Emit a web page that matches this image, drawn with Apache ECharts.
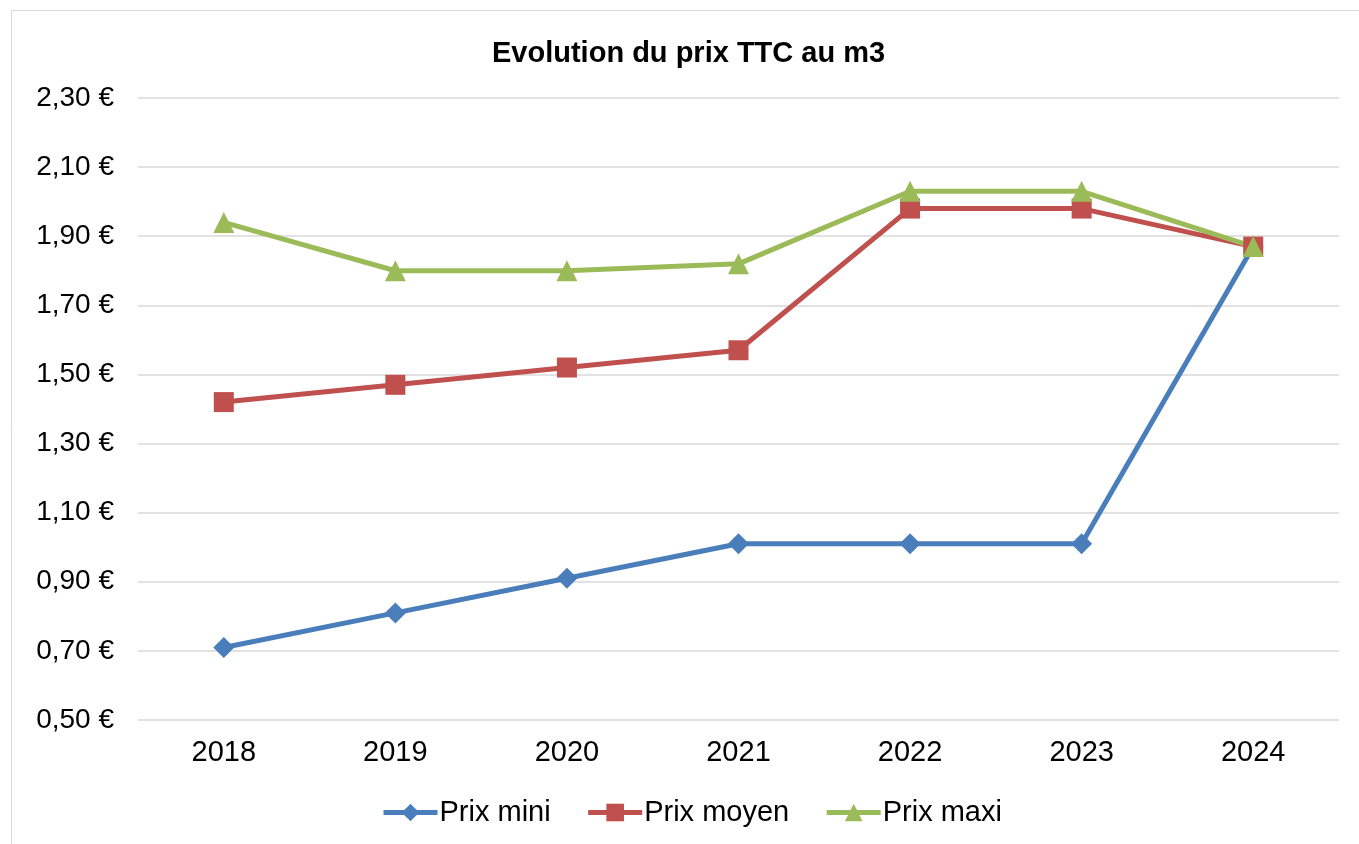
<!DOCTYPE html>
<html>
<head>
<meta charset="utf-8">
<script src="https://cdn.jsdelivr.net/npm/echarts@6/dist/echarts.min.js"></script>
<style>
  html, body { margin: 0; padding: 0; background: #fff; }
  #chart { width: 1359px; height: 844px; }
</style>
</head>
<body>
<div id="chart"></div>
<script>
var years = ['2018', '2019', '2020', '2021', '2022', '2023', '2024']
var prixMini = [0.71, 0.81, 0.91, 1.01, 1.01, 1.01, 1.87]
var prixMoyen = [1.42, 1.47, 1.52, 1.57, 1.98, 1.98, 1.87]
var prixMaxi = [1.94, 1.80, 1.80, 1.82, 2.03, 2.03, 1.87]

var font = 'Liberation Sans, Arial, sans-serif'

function euro(v) {
  return v.toFixed(2).replace('.', ',') + ' €'
}

var myChart = echarts.init(document.getElementById('chart'))

myChart.setOption({
  animation: false,
  backgroundColor: '#fff',
  title: {
    text: 'Evolution du prix TTC au m3',
    left: 487,
    top: 34,
    textStyle: { fontFamily: font, fontSize: 29, fontWeight: 'bold', color: '#000' }
  },
  graphic: [{
    type: 'rect',
    shape: { x: 11.5, y: 10.5, width: 1400, height: 900 },
    style: { fill: 'none', stroke: '#d9d9d9', lineWidth: 1 },
    silent: true
  }],
  legend: {
    bottom: 12,
    left: 376,
    itemWidth: 54,
    itemHeight: 22,
    itemGap: 35,
    lineStyle: { width: 5 },
    textStyle: { fontFamily: font, fontSize: 29, color: '#000', padding: [0, 0, 0, -3] },
    data: ['Prix mini', 'Prix moyen', 'Prix maxi']
  },
  grid: {
    left: 138,
    right: 20,
    top: 98,
    bottom: 124
  },
  xAxis: {
    type: 'category',
    data: years,
    boundaryGap: true,
    axisLine: { show: false },
    axisTick: { show: false },
    axisLabel: { fontFamily: font, fontSize: 29, color: '#000', margin: 18 }
  },
  yAxis: {
    type: 'value',
    min: 0.5,
    max: 2.3,
    interval: 0.2,
    axisLine: { show: false },
    axisTick: { show: false },
    splitLine: { lineStyle: { color: '#d9d9d9', width: 1.5 } },
    axisLabel: {
      fontFamily: font, fontSize: 28, color: '#000', margin: 24,
      formatter: euro
    }
  },
  series: [
    {
      name: 'Prix mini',
      type: 'line',
      data: prixMini,
      symbol: 'diamond',
      symbolSize: 21,
      color: '#4a7ebb',
      lineStyle: { width: 5 }
    },
    {
      name: 'Prix moyen',
      type: 'line',
      data: prixMoyen,
      symbol: 'rect',
      symbolSize: 20,
      color: '#c0504d',
      lineStyle: { width: 5 }
    },
    {
      name: 'Prix maxi',
      type: 'line',
      data: prixMaxi,
      symbol: 'triangle',
      symbolSize: 21,
      color: '#9bbb59',
      lineStyle: { width: 5 }
    }
  ]
})
</script>
</body>
</html>
